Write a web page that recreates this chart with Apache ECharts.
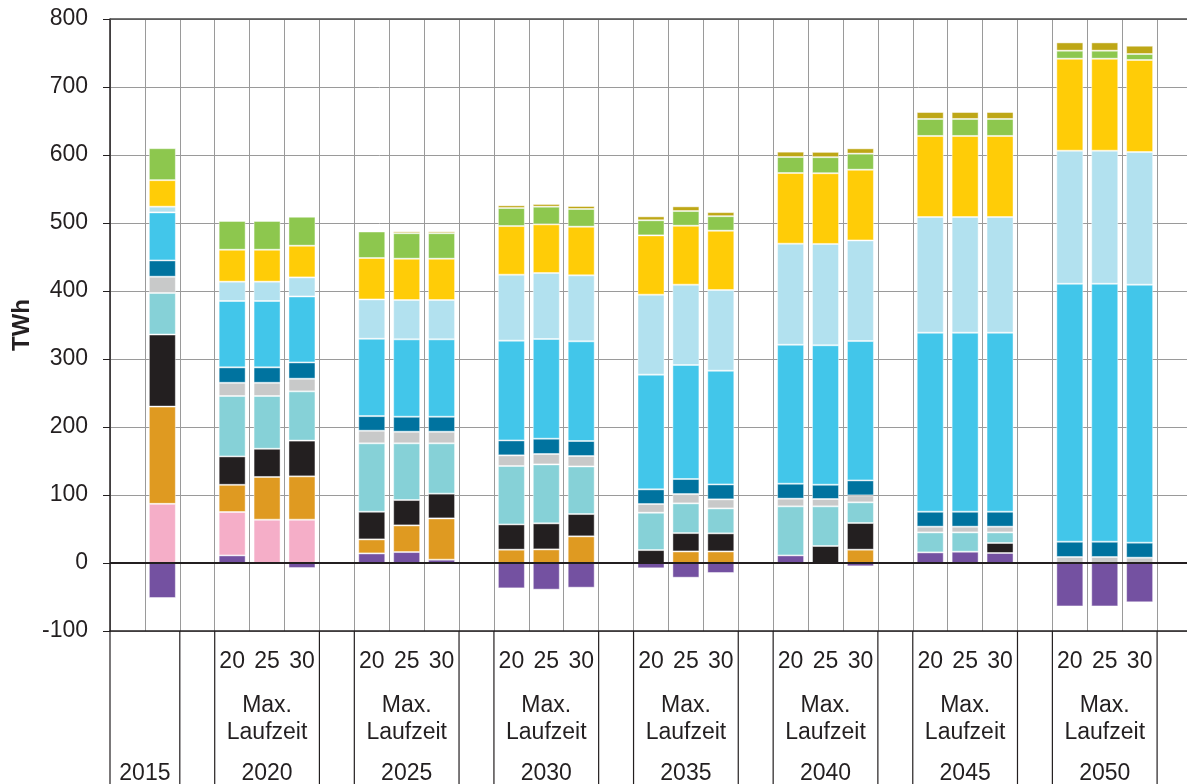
<!DOCTYPE html>
<html><head><meta charset="utf-8">
<script src="https://cdn.jsdelivr.net/npm/echarts@6/dist/echarts.min.js"></script>
<style>html,body{margin:0;padding:0;background:#fff}#c{width:1187px;height:784px}</style>
</head><body><div id="c"></div>
<script>
// ---- labels ----
const baseYear = '2015';
const years = ['2020', '2025', '2030', '2035', '2040', '2045', '2050'];
const runtimes = ['20', '25', '30'];
const groupTitle = ['Max.', 'Laufzeit'];
const yTicks = { min: -100, max: 800, step: 100 };
const unit = 'TWh';

// ---- values (TWh); order: 2015, then 2020-20/25/30, 2025-20/25/30, ... 2050-20/25/30 ----
const nettoimport = [-51.5, 11.2, 0, -7.4, 14.1, 16.1, 4.9, -37.3, -39.2, -36.3, -7.8, -21.6, -14.7, 11.2, 0, -4.9, 15.6, 16.6, 14.7, -63.8, -63.8, -57.9];
const kernenergie = [87, 63.8, 63.7, 63.7, 0, 0, 0, 0, 0, 0, 0, 0, 0, 0, 0, 0, 0, 0, 0, 0, 0, 0];
const braunkohle  = [143, 40, 62.8, 63.7, 20.6, 39.2, 60.7, 19.6, 20, 39.2, 0, 17, 17, 0, 0, 19.6, 0, 0, 0, 0, 0, 0];
const steinkohle  = [106, 41.8, 41.5, 52.6, 40.7, 37.3, 36.4, 37.2, 38.3, 32.8, 19, 27, 26.6, 0, 25, 39.2, 0, 0, 14.7, 0, 0, 0];
const erdgas      = [61, 88.8, 77.6, 72.4, 100.6, 83.4, 74, 85.8, 86.7, 70, 55, 43.7, 36.7, 72.1, 58.3, 30.4, 29.4, 28.4, 15.6, 0, 0, 0];
const sonstige    = [24, 19.4, 19.4, 18.6, 18.5, 17, 17, 15.7, 15.3, 15.3, 12.7, 13.7, 13.3, 11.3, 10.8, 10.2, 8.4, 8.4, 8.4, 8.8, 8.8, 7.8];
const wasser      = [24, 22.7, 22.7, 24, 21.5, 22.1, 22.1, 22, 22.5, 22.1, 21.6, 22.1, 22, 22, 21, 22.1, 22, 22, 22, 22.5, 22.5, 22.1];
const windOnshore = [70.6, 97.6, 97.6, 97, 113.8, 113.8, 113.8, 146.7, 146.6, 146.6, 168.7, 167.7, 167.2, 204.4, 205.1, 204.9, 263.3, 263.3, 263.3, 379.4, 379.4, 379.4];
const windOffshore= [8.4, 28.4, 28.4, 28, 57.8, 57.8, 57.8, 97, 97.1, 97, 117.6, 118.1, 118.7, 148.6, 149, 148, 170.1, 170.1, 170.1, 195.6, 195.6, 195.1];
const photovoltaik= [39, 47, 47, 46.6, 60.9, 60.8, 60.8, 71.5, 71.5, 71.6, 87.2, 86.7, 87.2, 103.9, 104, 104, 119.2, 119.2, 119.2, 135.3, 135.3, 135.3];
const biomasse    = [47, 42.3, 42.3, 42.6, 39, 37.5, 37.5, 26.5, 26, 26, 22.2, 21.6, 21.3, 23.5, 23.6, 23.6, 25, 25, 25, 11.8, 11.8, 8.8];
const sonstigeEE  = [0, 1.4, 1.4, 1.5, 1.5, 2.7, 2.7, 4, 4, 4.4, 5.8, 6.9, 6, 7.9, 7.8, 7.8, 10.2, 10.2, 10.2, 12.2, 12.2, 12.2];

const seriesDefs = [
  ['Nettoimport', nettoimport, '#7451A1'],
  ['Kernenergie', kernenergie, '#F5AEC8'],
  ['Braunkohle', braunkohle, '#DF9A21'],
  ['Steinkohle', steinkohle, '#231F20'],
  ['Erdgas', erdgas, '#86D1D7'],
  ['Sonstige', sonstige, '#C8C9C9'],
  ['Wasserkraft', wasser, '#00739F'],
  ['Wind onshore', windOnshore, '#42C6EA'],
  ['Wind offshore', windOffshore, '#B2E1EF'],
  ['Photovoltaik', photovoltaik, '#FFCC07'],
  ['Biomasse', biomasse, '#8DC74E'],
  ['Sonstige EE', sonstigeEE, '#BEA716']
];

// ---- category slots: empty, 2015, empty, then for each year 3 bars + empty ----
const categories = ['', '', ''];
const barSlots = [1];
years.forEach((y, g) => {
  runtimes.forEach((r, k) => { barSlots.push(categories.length); categories.push(r); });
  categories.push('');
});

const FONT = '"Liberation Sans", Arial, sans-serif';
const TXT = '#231f20';

const series = seriesDefs.map(([name, vals, color], si) => {
  const data = new Array(categories.length).fill(null);
  barSlots.forEach((s, i) => { data[s] = vals[i] === 0 ? null : vals[i]; });
  const s = {
    name, type: 'bar', stack: 'total', data, barWidth: 27,
    itemStyle: { color, borderColor: 'rgba(255,255,255,0.45)', borderWidth: 1 },
    emphasis: { disabled: true }
  };
  if (si === 0) {
    s.markLine = {
      silent: true, symbol: 'none', label: { show: false }, animation: false,
      data: [
        { yAxis: 0, lineStyle: { color: TXT, width: 2, type: 'solid' } },
        { yAxis: yTicks.max, lineStyle: { color: '#4a4a4a', width: 1.5, type: 'solid' } }
      ]
    };
  }
  return s;
});

const chart = echarts.init(document.getElementById('c'), null, { renderer: 'canvas' });
chart.setOption({
  animation: false,
  backgroundColor: '#fff',
  grid: { left: 110, right: -5, top: 19, bottom: 153, containLabel: false, outerBoundsMode: 'none' },
  xAxis: {
    type: 'category', data: categories, boundaryGap: true,
    axisLine: { show: true, onZero: false, lineStyle: { color: TXT, width: 1.5 } },
    axisTick: { show: false },
    axisLabel: { interval: 0, margin: 19, fontSize: 23, fontFamily: FONT, color: TXT },
    splitLine: { show: true, interval: 0, lineStyle: { color: '#9a9a9a', width: 1 } }
  },
  yAxis: {
    type: 'value', min: yTicks.min, max: yTicks.max, interval: yTicks.step,
    axisLine: { show: true, lineStyle: { color: TXT, width: 1.5 } },
    axisTick: { show: true, length: 7, lineStyle: { color: TXT, width: 1 } },
    axisLabel: { margin: 22, fontSize: 23, fontFamily: FONT, color: TXT },
    splitLine: { show: true, lineStyle: { color: '#9a9a9a', width: 1 } }
  },
  series
});

// ---- table below the axis (lines and group captions), placed with the axis scale ----
const cx = i => chart.convertToPixel({ xAxisIndex: 0 }, i);
const slotW = cx(1) - cx(0);
const yBottom = chart.convertToPixel({ yAxisIndex: 0 }, yTicks.min);
const H = 784;
const lineStyle = { stroke: TXT, lineWidth: 1.2 };
const elements = [];
const vline = x => elements.push({ type: 'line', silent: true, shape: { x1: x, y1: yBottom, x2: x, y2: H }, style: lineStyle });
vline(cx(0) - slotW / 2);
vline(cx(1) + slotW / 2);
const text = (t, x, y, extra) => elements.push(Object.assign({
  type: 'text', silent: true, x, y,
  style: { text: t, font: '23px ' + FONT, fill: TXT, align: 'center', verticalAlign: 'middle' }
}, extra || {}));
text(baseYear, (cx(0) + cx(1)) / 2, 774);
years.forEach((y, g) => {
  const first = barSlots[1 + g * 3], last = barSlots[3 + g * 3];
  vline(cx(first) - slotW / 2);
  vline(cx(last) + slotW / 2);
  const mid = (cx(first) + cx(last)) / 2;
  text(groupTitle[0], mid, 706);
  text(groupTitle[1], mid, 733);
  text(y, mid, 774);
});
elements.push({
  type: 'text', silent: true, x: 22, y: 325, rotation: Math.PI / 2,
  style: { text: unit, font: 'bold 24px ' + FONT, fill: TXT, align: 'center', verticalAlign: 'middle' }
});
chart.setOption({ graphic: { elements } });
</script>
</body></html>
